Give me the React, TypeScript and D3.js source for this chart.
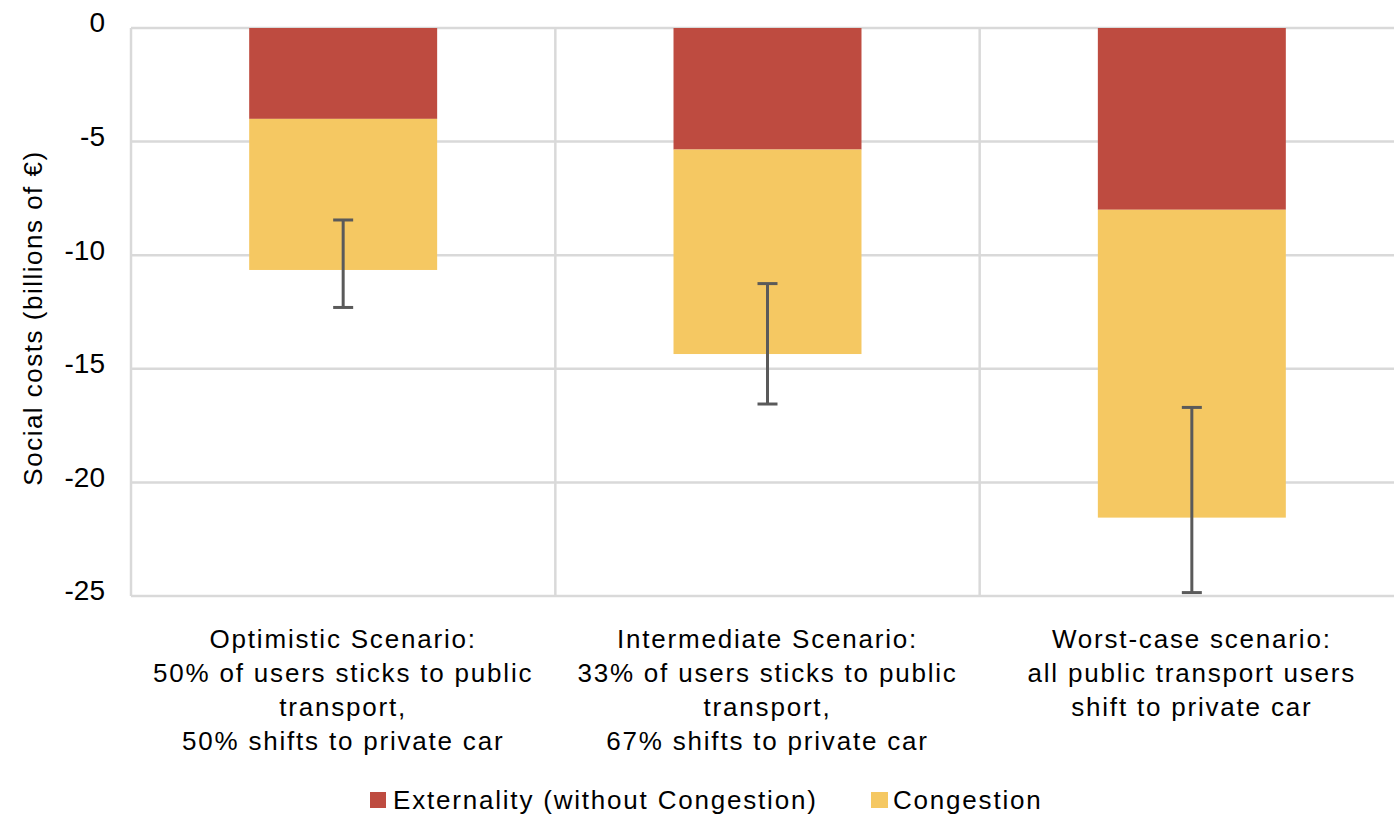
import React from 'react';
import * as d3 from 'd3';

const categories = ['optimistic', 'intermediate', 'worst'];
const categoryLabels = [
  ['Optimistic Scenario:', '50% of users sticks to public', 'transport,', '50% shifts to private car'],
  ['Intermediate Scenario:', '33% of users sticks to public', 'transport,', '67% shifts to private car'],
  ['Worst-case scenario:', 'all public transport users', 'shift to private car'],
];
const externality = [-4.0, -5.35, -8.0];
const congestion = [-6.65, -9.0, -13.55];
const errLow = [-12.3, -16.55, -24.85];
const errHigh = [-8.45, -11.25, -16.7];
const yTicks = [0, -5, -10, -15, -20, -25];
const seriesNames = ['Externality (without Congestion)', 'Congestion'];
const seriesColors = ['#BE4B40', '#F5C862'];

const W = 1394;
const H = 814;
const FONT = "'Liberation Sans', Arial, sans-serif";

export default function App() {
  const left = 131;
  const right = 1404;
  const top = 28;
  const bottom = 596;

  const x = d3.scaleBand().domain(categories).range([left, right]).padding(0);
  const y = d3.scaleLinear().domain([0, -25]).range([top, bottom]);
  const step = x.step();
  const barW = step * 0.443;

  return (
    <svg width={W} height={H} style={{ position: 'absolute', left: 0, top: 0, background: '#fff' }} fontFamily={FONT}>
      {/* gridlines */}
      {yTicks.map(t => (
        <line key={'h' + t} x1={left} x2={W} y1={y(t)} y2={y(t)} stroke="#d9d9d9" strokeWidth={2.5} />
      ))}
      {categories.map(c => (
        <line key={'v' + c} x1={x(c)} x2={x(c)} y1={top} y2={bottom} stroke="#d9d9d9" strokeWidth={2.5} />
      ))}

      {/* bars */}
      {categories.map((c, i) => {
        const bx = (x(c) as number) + (step - barW) / 2;
        const ext = externality[i];
        const tot = externality[i] + congestion[i];
        return (
          <g key={c}>
            <rect x={bx} y={y(0)} width={barW} height={y(ext) - y(0)} fill={seriesColors[0]} />
            <rect x={bx} y={y(ext)} width={barW} height={y(tot) - y(ext)} fill={seriesColors[1]} />
          </g>
        );
      })}

      {/* error bars */}
      {categories.map((c, i) => {
        const cx = (x(c) as number) + step / 2;
        return (
          <g key={'e' + c} stroke="#5a5a5a" strokeWidth={3}>
            <line x1={cx} x2={cx} y1={y(errHigh[i])} y2={y(errLow[i])} />
            <line x1={cx - 10} x2={cx + 10} y1={y(errHigh[i])} y2={y(errHigh[i])} />
            <line x1={cx - 10} x2={cx + 10} y1={y(errLow[i])} y2={y(errLow[i])} />
          </g>
        );
      })}

      {/* y tick labels */}
      {yTicks.map(t => (
        <text key={'t' + t} x={105} y={y(t) - 3} textAnchor="end" dominantBaseline="middle" fontSize={28} fill="#000">
          {t}
        </text>
      ))}

      {/* y axis title */}
      <text transform={`translate(42,${318}) rotate(-90)`} textAnchor="middle" fontSize={26} letterSpacing={1.5} fill="#000">
        Social costs (billions of €)
      </text>

      {/* category labels */}
      {categories.map((c, i) => (
        <text key={'l' + c} x={(x(c) as number) + step / 2} y={648} textAnchor="middle" fontSize={26} letterSpacing={1.8} fill="#000">
          {categoryLabels[i].map((ln, j) => (
            <tspan key={j} x={(x(c) as number) + step / 2} dy={j === 0 ? 0 : 34}>{ln}</tspan>
          ))}
        </text>
      ))}

      {/* legend */}
      <rect x={370} y={792} width={16} height={16} fill={seriesColors[0]} />
      <text x={393} y={809} fontSize={26} letterSpacing={1.8} fill="#000">{seriesNames[0]}</text>
      <rect x={871} y={792} width={17} height={16} fill={seriesColors[1]} />
      <text x={893} y={809} fontSize={26} letterSpacing={1.8} fill="#000">{seriesNames[1]}</text>
    </svg>
  );
}
